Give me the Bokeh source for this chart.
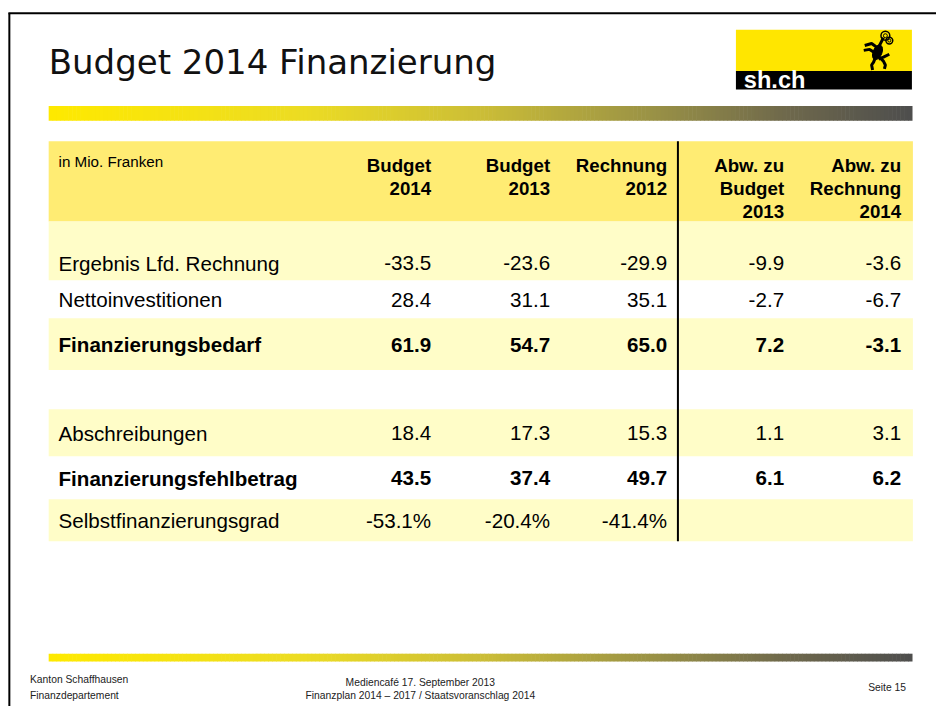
import numpy as np
from bokeh.plotting import figure
from bokeh.models import Range1d, ColumnDataSource
from bokeh.core.properties import value
from bokeh.embed import file_html
from bokeh.resources import INLINE

# ---------------- data ----------------
title_text = "Budget 2014 Finanzierung"
unit_label = "in Mio. Franken"
col_headers = [["Budget", "2014"], ["Budget", "2013"], ["Rechnung", "2012"],
               ["Abw. zu", "Budget", "2013"], ["Abw. zu", "Rechnung", "2014"]]
row_labels = ["Ergebnis Lfd. Rechnung", "Nettoinvestitionen", "Finanzierungsbedarf",
              "Abschreibungen", "Finanzierungsfehlbetrag", "Selbstfinanzierungsgrad"]
budget_2014 = [-33.5, 28.4, 61.9, 18.4, 43.5, -53.1]
budget_2013 = [-23.6, 31.1, 54.7, 17.3, 37.4, -20.4]
rechnung_2012 = [-29.9, 35.1, 65.0, 15.3, 49.7, -41.4]
abw_budget_2013 = [-9.9, -2.7, 7.2, 1.1, 6.1, None]
abw_rechnung_2014 = [-3.6, -6.7, -3.1, 3.1, 6.2, None]
row_bold = [False, False, True, False, True, False]
row_is_percent = [False, False, False, False, False, True]
footer_left = ["Kanton Schaffhausen", "Finanzdepartement"]
footer_center = ["Mediencafé 17. September 2013", "Finanzplan 2014 – 2017 / Staatsvoranschlag 2014"]
footer_right = "Seite 15"
logo_text = "sh.ch"

# ---------------- layout / style ----------------
W, H = 936, 706
S = W / 952.0  # slide units -> screen pixels


def fs(px):
    return "%.1fpx" % (px * S)


FONT = value("Liberation Sans")
X0, X1 = 49, 928
col_right = [438, 559, 678, 797, 916]
row_band = [(250, 286), (286, 325), (325, 378), (418, 466), (466, 510), (510, 553)]
row_fill = ["#FFFDC8", None, "#FFFDC8", "#FFFDC8", None, "#FFFDC8"]
spacer_bands = [(226, 250, "#FFFDC8"), (378, 418, None)]
HEADER_TOP, HEADER_BOT = 144, 226
SEP_X = 689

p = figure(width=W, height=H, x_range=Range1d(0, 952), y_range=Range1d(722, 0),
           output_backend="svg", toolbar_location=None, x_axis_type=None, y_axis_type=None,
           min_border=0, outline_line_color=None, background_fill_color="white",
           border_fill_color="white")
p.grid.visible = False

# slide frame (top + left)
p.segment(x0=[9, 8], y0=[13, 13], x1=[9, 952], y1=[722, 13], line_color="black", line_width=2)

# title
p.text(x=[49], y=[63], text=[title_text], text_font=value("DejaVu Sans"), text_font_size=fs(34.6),
       text_color="#111111", text_baseline="middle", text_align="left")

# gradient bars
stops = np.array([0.0, 0.3, 0.5, 0.7, 0.85, 1.0])
cols = np.array([(255, 234, 0), (236, 220, 36), (204, 190, 55), (154, 146, 70), (112, 106, 76), (78, 78, 78)])
N = 220
edges = np.linspace(X0, 927, N + 1)
t = (np.arange(N) + 0.5) / N
rgb = np.stack([np.interp(t, stops, cols[:, k]) for k in range(3)], axis=1).astype(int)
hexes = ["#%02x%02x%02x" % tuple(c) for c in rgb]
for (yt, yb) in [(108, 123), (668, 676)]:
    p.quad(left=edges[:-1], right=edges[1:] + 0.6, top=[yt] * N, bottom=[yb] * N,
           fill_color=hexes, line_color=None)

# logo
p.quad(left=[748], right=[927], top=[30], bottom=[72], fill_color="#FFE600", line_color=None)
p.quad(left=[748], right=[927], top=[72], bottom=[91], fill_color="black", line_color=None)
p.text(x=[756], y=[81], text=[logo_text], text_font=FONT, text_font_style="bold",
       text_font_size=fs(24), text_color="white", text_baseline="middle")
# stylised ram
p.multi_line(xs=[[879, 886, 893], [878, 884, 890], [890, 888, 886, 887], [894, 898, 900, 899], [893, 898, 904], [893, 896, 898]],
             ys=[[46, 44, 49], [51, 50, 54], [58, 63, 66, 71], [58, 62, 66, 70], [60, 58, 55], [48, 42, 38]],
             line_color="black", line_width=3)
p.ellipse(x=[892], y=[53], width=[9], height=[16], angle=[-0.4], fill_color="black", line_color="black")
p.circle(x=[900, 904], y=[36, 41], radius=[4.5, 3.5], fill_color=None, line_color="black", line_width=1.5)
p.circle(x=[900, 904], y=[36, 41], radius=[2, 1.5], fill_color=None, line_color="black", line_width=1)

# header band
p.quad(left=[X0], right=[X1], top=[HEADER_TOP], bottom=[HEADER_BOT], fill_color="#FFEC73", line_color=None)
p.text(x=[59], y=[165], text=[unit_label], text_font=FONT, text_font_size=fs(15.5),
       text_color="black", text_baseline="alphabetic")
hx, hy, ht = [], [], []
for ci, lines in enumerate(col_headers):
    for li, s in enumerate(lines):
        hx.append(col_right[ci]); hy.append(169 + 23.5 * li); ht.append(s)
p.text(x=hx, y=hy, text=ht, text_font=FONT, text_font_style="bold", text_font_size=fs(19),
       text_color="black", text_align="right", text_baseline="alphabetic")

# row bands
for (yt, yb, fc) in spacer_bands:
    if fc:
        p.quad(left=[X0], right=[X1], top=[yt], bottom=[yb], fill_color=fc, line_color=None)
for (yt, yb), fc in zip(row_band, row_fill):
    if fc:
        p.quad(left=[X0], right=[X1], top=[yt], bottom=[yb], fill_color=fc, line_color=None)

# row texts
series = [budget_2014, budget_2013, rechnung_2012, abw_budget_2013, abw_rechnung_2014]
for ri, lab in enumerate(row_labels):
    yt, yb = row_band[ri]
    yc = (yt + yb) / 2 + 0.5
    style = "bold" if row_bold[ri] else "normal"
    xs, ys, txt = [59], [yc], [lab]
    for ci, ser in enumerate(series):
        v = ser[ri]
        if v is None:
            continue
        s = ("%.1f%%" % v) if row_is_percent[ri] else ("%.1f" % v)
        xs.append(col_right[ci]); ys.append(yc); txt.append(s)
    aligns = ["left"] + ["right"] * (len(xs) - 1)
    src = ColumnDataSource(dict(x=xs, y=ys, t=txt, a=aligns))
    p.text(x="x", y="y", text="t", text_align="a", source=src, text_font=FONT,
           text_font_style=style, text_font_size=fs(21), text_color="black", text_baseline="middle")

# separator
p.segment(x0=[SEP_X], y0=[HEADER_TOP], x1=[SEP_X], y1=[553], line_color="black", line_width=2)

# footer
p.text(x=[30, 30], y=[694, 711], text=footer_left, text_font=FONT, text_font_size=fs(10.5),
       text_color="#222222", text_baseline="middle")
p.text(x=[427, 427], y=[697, 711], text=footer_center, text_font=FONT, text_font_size=fs(10.5),
       text_color="#222222", text_baseline="middle", text_align="center")
p.text(x=[921], y=[703], text=[footer_right], text_font=FONT, text_font_size=fs(10.5),
       text_color="#222222", text_baseline="middle", text_align="right")

open("out.html", "w").write(file_html(p, INLINE))
